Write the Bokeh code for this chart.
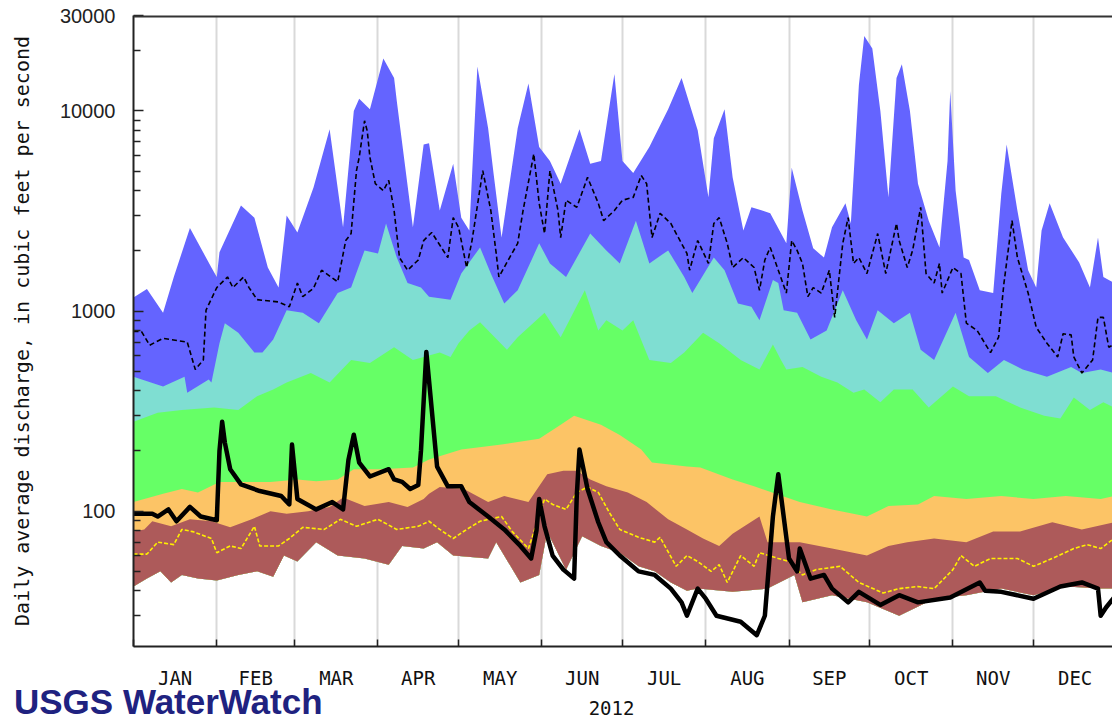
from bokeh.plotting import figure
from bokeh.layouts import column
from bokeh.models import (Range1d, FixedTicker, Span, Div,
                          PrintfTickFormatter, CustomJSTickFormatter)
from bokeh.embed import file_html
from bokeh.resources import INLINE

# ---------------- data (day of year 2012, discharge in cfs) ----------------
month_labels = ["JAN", "FEB", "MAR", "APR", "MAY", "JUN",
                "JUL", "AUG", "SEP", "OCT", "NOV", "DEC"]
month_start_doy = [1, 32, 61, 92, 122, 153, 183, 214, 245, 275, 306, 336]
year_end_doy = 367

days_max = [1,6,12,16,22,30,32,33,41,46,51,55,58,62,68,74,79,83,85,89,94,98,99,105,109,111,115,120,123,126,
            129,133,135,138,144,148,152,156,160,167,171,175,180,183,187,193,200,205,211,215,217,221,224,228,231,
            235,238,244,246,250,254,258,261,266,268,271,273,276,279,282,285,287,290,293,297,301,304,305,307,310,
            312,316,321,324,326,330,334,337,339,342,347,353,357,360,362,366]
q_max = [1170,1290,980,1480,2600,1650,1480,1970,3370,2930,1650,1310,3000,2470,4140,8100,2620,10000,11500,10200,
         18300,14600,11200,2620,6800,6900,3180,5450,2930,2530,16700,8200,4900,2330,8200,13700,6600,5630,4330,8100,
         5450,5630,15300,5630,4900,6600,10200,14600,8000,3700,7300,10200,4660,2530,3300,3180,3080,2180,5200,3180,
         2060,1850,2620,3460,2740,13500,23700,20500,10000,3700,14600,17100,10000,4330,2830,2080,5630,12600,4000,1850,
         1800,1270,1230,3860,6800,3180,1600,1310,2530,3460,2330,1750,1310,2330,1480,1380]

days_p90 = [1,12,20,21,29,30,33,35,40,46,49,53,58,64,70,77,82,87,92,95,99,103,108,111,119,123,130,134,139,144,
            152,156,162,171,177,182,188,193,200,206,209,217,221,226,231,234,239,241,243,248,253,259,265,270,274,
            278,284,290,294,299,307,312,319,325,332,341,350,354,361,366]
q_p90 = [470,420,470,390,455,440,690,870,780,620,620,720,1010,980,870,1230,1310,2010,1940,2740,1850,1380,1310,
         1180,1140,1540,2080,1540,1090,1270,2180,1730,1480,2440,2010,1730,2830,1730,2010,1480,1230,1850,1600,1090,
         1050,900,1430,1380,1010,980,720,800,1270,900,720,1010,870,980,640,570,980,590,490,570,510,470,525,490,510,490]

days_p75 = [1,10,19,31,40,47,53,58,67,74,82,89,98,105,115,119,122,126,130,140,144,154,160,169,174,177,183,187,
            193,201,206,213,219,227,234,239,242,244,250,257,263,269,273,279,284,291,297,306,312,322,331,340,346,
            351,357,362,366]
q_p75 = [280,310,320,330,320,375,405,440,490,440,570,550,660,570,620,590,690,800,880,640,740,980,740,1270,800,
         900,800,900,570,550,620,780,690,570,510,680,570,510,525,470,440,390,405,350,405,405,330,420,375,375,330,
         300,290,370,320,350,330]

days_p25 = [1,12,19,25,33,43,52,62,69,77,83,93,105,111,123,138,152,160,165,175,182,190,194,207,212,224,232,249,
            261,274,282,293,299,311,324,336,348,361,366]
q_p25 = [111,122,129,124,140,140,140,144,141,144,162,162,165,181,203,215,230,270,300,270,240,203,175,167,165,144,
         133,111,102,94,106,108,119,115,119,115,119,115,119]

days_p10 = [1,5,8,15,22,30,37,45,52,58,66,74,79,87,96,103,109,111,115,124,133,139,148,155,161,166,171,177,185,
            192,200,207,213,219,224,234,237,249,261,274,282,289,299,311,321,331,343,354,366]
q_p10 = [79,81,89,84,91,89,83,91,100,97,100,105,117,106,111,105,115,122,132,129,111,119,111,153,159,159,144,133,
         124,111,91,81,73,67,77,94,70,70,65,60,67,70,73,70,79,79,88,81,88]

days_min = [1,6,11,15,19,25,32,40,47,53,57,62,69,77,87,96,101,109,114,120,133,136,145,152,155,162,168,175,182,
            189,195,201,207,211,224,237,247,250,261,274,286,299,311,324,336,348,361,366]
q_min = [42,46,50,44,48,46,45,48,50,47,60,56,70,60,58,54,67,65,70,60,58,70,44,48,79,51,75,67,62,53,50,44,40,41,
         39.5,41,48,35,38,35,30,36.5,38,41,38,42,41,41]

days_yellow = [1,6,10,16,19,23,30,32,37,41,46,48,55,59,64,72,78,84,92,99,107,111,115,120,125,130,138,142,148,154,
               157,162,166,170,174,178,182,189,195,197,203,207,211,216,219,222,227,232,234,241,245,250,255,264,271,
               280,286,293,299,306,309,314,320,330,336,343,351,356,361,366]
q_yellow = [61,61,70,68,81,79,73,62,67,65,84,67,67,73,83,81,91,84,91,81,84,89,81,73,81,89,94,79,65,115,108,102,
            124,132,124,99,81,74,70,74,53,60,56,50,54,44,60,53,62,58,56,48,51,53,44,39,41,42,41,51,60,53,58,58,53,
            58,65,68,65,73]

days_mean = [1,4,7,12,21,24,27,28,32,36,38,42,44,47,55,59,62,64,68,71,77,80,82,84,85,87,88,89,91,94,96,98,100,
             103,107,109,112,118,120,122,125,127,131,134,136,137,141,144,146,150,152,154,156,159,160,162,166,170,
             174,176,180,183,187,190,192,194,197,201,203,207,208,211,215,217,219,222,224,228,232,234,236,238,241,
             244,246,248,250,252,254,257,260,262,265,267,269,271,274,278,281,285,286,289,291,294,296,299,301,302,
             306,309,311,315,320,323,325,328,330,334,337,341,345,347,350,351,354,358,360,362,364,366]
q_mean = [790,790,675,730,700,510,570,1010,1310,1480,1310,1480,1310,1140,1110,1050,1380,1180,1300,1600,1400,2250,
          2440,5030,5860,8930,7950,5860,4330,4000,4500,3180,1850,1600,1800,2250,2470,1850,2930,2620,1650,2250,5030,
          3180,1940,1480,1850,2180,3180,6100,3460,2440,5030,3180,2330,3580,3300,4660,3460,2830,3180,3580,3700,4760,
          4330,2330,3080,2740,2440,1940,1600,2250,1730,2740,2930,2180,1650,1850,1650,1270,1800,2080,1600,1230,2250,
          2010,1730,1180,1310,1230,1600,930,2180,2930,1730,1850,1540,2440,1540,2740,2250,1650,2010,3300,1540,1380,
          1730,1230,1650,1540,870,800,620,740,1380,2830,1850,1230,830,690,590,770,760,590,490,570,930,930,660,680]

days_2012 = [1,6,8,10,14,17,22,26,32,33,34,35,37,41,48,56,59,60,62,64,69,75,79,81,83,85,89,96,98,101,104,107,108,
             110,111,114,118,123,126,133,139,145,149,151,152,154,157,161,165,166,167,170,174,177,182,189,195,201,
             205,207,211,214,218,227,233,236,239,241,243,245,248,249,253,258,261,267,271,279,286,293,305,316,318,
             324,336,346,354,360,361,363,366]
q_2012 = [97,97,97,94,102,89,105,94,90,200,280,220,162,136,126,119,108,215,115,111,102,111,102,180,241,175,149,
          162,144,140,129,135,200,625,450,167,133,133,111,94,81,67,58,80,115,84,60,51,46,120,203,129,88,70,60,50,48,
          41,35,30,41,36.5,30,28,24,30,94,153,94,58,50,65,46,48,41,35,39.5,34,38,35,37,44,40,39.5,36.5,42,44,41,30,
          33,37]

# ---------------- styling ----------------
C_BLUE = "#6464FF"
C_TURQ = "#7FDED2"
C_GREEN = "#66FF66"
C_ORANGE = "#FCC466"
C_BROWN = "#AD5A5A"
C_YELLOW = "#FFF000"


def xpos(days):
    # day-of-year -> days elapsed since Jan 1
    return [d - 1 for d in days]


month_starts = xpos(month_start_doy)
month_bounds = month_starts + [year_end_doy - 1]
month_centers = [(month_bounds[i] + month_bounds[i + 1]) / 2 for i in range(12)]

p = figure(width=1112, height=721, y_axis_type="log",
           x_range=Range1d(0, 364.4), y_range=Range1d(21.06, 30000),
           output_backend="svg", toolbar_location=None,
           min_border_left=133, min_border_right=0, min_border_top=15, min_border_bottom=73,
           background_fill_color="white", border_fill_color="white")
p.outline_line_color = None

# percentile bands, each filled from its upper boundary down to the minimum
xmin_rev = list(reversed(xpos(days_min)))
qmin_rev = list(reversed(q_min))
for d_hi, q_hi, col in [(days_max, q_max, C_BLUE), (days_p90, q_p90, C_TURQ),
                        (days_p75, q_p75, C_GREEN), (days_p25, q_p25, C_ORANGE),
                        (days_p10, q_p10, C_BROWN)]:
    p.patch(xpos(d_hi) + xmin_rev, list(q_hi) + qmin_rev,
            fill_color=col, line_color=None)

p.line(xpos(days_yellow), q_yellow, line_color=C_YELLOW, line_width=1.6, line_dash="4 2")
p.line(xpos(days_mean), q_mean, line_color="black", line_width=1.6, line_dash="5 3")
p.line(xpos(days_2012), q_2012, line_color="black", line_width=4.5, line_join="round")

# grid at month boundaries
p.xgrid.ticker = FixedTicker(ticks=month_starts[1:])
p.xgrid.grid_line_color = "#D9D9D9"
p.xgrid.grid_line_width = 2
p.ygrid.visible = False

# x axis
xa = p.xaxis[0]
xa.ticker = FixedTicker(ticks=month_centers, minor_ticks=month_starts)
xa.formatter = CustomJSTickFormatter(args=dict(labels=month_labels), code="return labels[index];")
xa.major_tick_in = 0
xa.major_tick_out = 0
xa.minor_tick_in = 7
xa.minor_tick_out = 0
xa.minor_tick_line_color = "#222222"
xa.minor_tick_line_width = 1.5
xa.axis_line_color = "#222222"
xa.axis_line_width = 2
xa.major_label_text_font = "DejaVu Sans Mono"
xa.major_label_text_font_size = "19px"
xa.major_label_text_color = "#111111"
xa.major_label_standoff = 20
xa.axis_label = "2012\u00a0\u00a0"
xa.axis_label_text_font = "DejaVu Sans Mono"
xa.axis_label_text_font_size = "19px"
xa.axis_label_text_font_style = "normal"
xa.axis_label_text_color = "#111111"
xa.axis_label_standoff = 5

# y axis
ya = p.yaxis[0]
y_minor = [m * 10 ** e for e in (1, 2, 3) for m in range(2, 10)] + [20000]
ya.ticker = FixedTicker(ticks=[100, 1000, 10000, 30000], minor_ticks=[v for v in y_minor if v > 21.06])
ya.formatter = PrintfTickFormatter(format="%d")
ya.major_tick_in = 10
ya.major_tick_out = 0
ya.minor_tick_in = 7
ya.minor_tick_out = 0
ya.major_tick_line_color = "#222222"
ya.minor_tick_line_color = "#222222"
ya.major_tick_line_width = 1.5
ya.minor_tick_line_width = 1.5
ya.axis_line_color = "#222222"
ya.axis_line_width = 2
ya.major_label_text_font = "Liberation Sans"
ya.major_label_text_font_size = "20px"
ya.major_label_text_color = "#222222"
ya.major_label_standoff = 18
ya.axis_label = "Daily average discharge, in cubic feet per second"
ya.axis_label_text_font = "DejaVu Sans Mono"
ya.axis_label_text_font_size = "20px"
ya.axis_label_text_font_style = "normal"
ya.axis_label_text_color = "#111111"
ya.axis_label_standoff = 23

# top border of the plot area
p.add_layout(Span(location=30000, dimension="width", line_color="#333333", line_width=4))

# logo text, pulled up over the bottom-left corner of the figure
logo = Div(text='<span style="font-family: \'Liberation Sans\', sans-serif; font-weight: bold; '
                'font-size: 35px; line-height: 39px; color: #1F2280; white-space: nowrap;">'
                'USGS WaterWatch</span>',
           width=330, height=39, margin=(-39, 0, 0, 14))

layout = column(p, logo, spacing=0)
open("out.html", "w").write(file_html(layout, INLINE))
